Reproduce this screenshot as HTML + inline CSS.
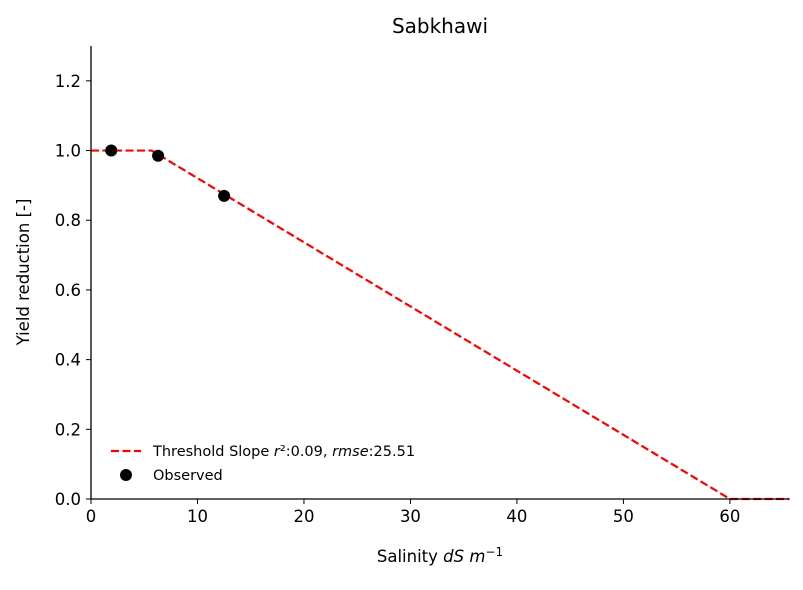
<!DOCTYPE html>
<html><head><meta charset="utf-8"><style>
body{margin:0;background:#fff;}
svg{font-family:"DejaVu Sans","Liberation Sans",sans-serif;}
</style></head><body>
<svg id="c" width="803" height="585" xmlns="http://www.w3.org/2000/svg"></svg>
<script>
const xTicks=[0,10,20,30,40,50,60];
const yTicks=[0.0,0.2,0.4,0.6,0.8,1.0,1.2];
const obsX=[1.9,6.3,12.5];
const obsY=[1.0,0.985,0.87];
const fitX=[0,5.7,60,65.6];
const fitY=[1.0,1.0,0.0,0.0];
const X0=91,X1=789,xmin=0,xmax=65.55,Y0=499,Y1=46,ymin=0,ymax=1.3;
const sx=v=>X0+(v-xmin)/(xmax-xmin)*(X1-X0);
const sy=v=>Y0-(v-ymin)/(ymax-ymin)*(Y0-Y1);
const svg=document.getElementById('c');const NS='http://www.w3.org/2000/svg';
function mk(t,a,txt){const e=document.createElementNS(NS,t);for(const k in a)e.setAttribute(k,a[k]);if(txt!==undefined)e.innerHTML=txt;svg.appendChild(e);return e;}
let e;
e=mk('polyline',{points:fitX.map((x,i)=>sx(x)+','+sy(fitY[i])).join(' '),fill:'none',stroke:'#ff0000','stroke-width':2.2,'stroke-dasharray':'8,3.5'});


obsX.forEach((x,i)=>{const c=mk('circle',{cx:sx(x),cy:sy(obsY[i]),r:6,fill:'#000'});

});
e=mk('line',{x1:X0,y1:Y0,x2:X1,y2:Y0,stroke:'#000','stroke-width':1.3});


e=mk('line',{x1:X0,y1:Y0,x2:X0,y2:Y1,stroke:'#000','stroke-width':1.3});


xTicks.forEach(t=>{mk('line',{x1:sx(t),y1:Y0,x2:sx(t),y2:Y0+5,stroke:'#000'});
const l=mk('text',{x:sx(t),y:Y0+23,'text-anchor':'middle','font-size':16.5},t);

});
yTicks.forEach(t=>{mk('line',{x1:X0,y1:sy(t),x2:X0-5,y2:sy(t),stroke:'#000'});
const l=mk('text',{x:X0-10,y:sy(t)+6,'text-anchor':'end','font-size':16.5},t.toFixed(1));

});
e=mk('text',{x:440,y:33,'text-anchor':'middle','font-size':20},'Sabkhawi');


e=mk('text',{x:440,y:562,'text-anchor':'middle','font-size':16.5},'Salinity <tspan font-style="italic">dS m</tspan><tspan dy="-6" font-size="12">−1</tspan>');


e=mk('text',{x:29,y:272,'text-anchor':'middle','font-size':16.5,transform:'rotate(-90 29 272)'},'Yield reduction [-]');


e=mk('line',{x1:111,y1:451,x2:141,y2:451,stroke:'#ff0000','stroke-width':2.2,'stroke-dasharray':'8,3.5'});


e=mk('text',{x:153,y:456,'font-size':14.5},'Threshold Slope <tspan font-style="italic">r</tspan>²:0.09, <tspan font-style="italic">rmse</tspan>:25.51');


e=mk('circle',{cx:126,cy:475,r:6,fill:'#000'});


e=mk('text',{x:153,y:480,'font-size':14.5},'Observed');


</script>
</body></html>
